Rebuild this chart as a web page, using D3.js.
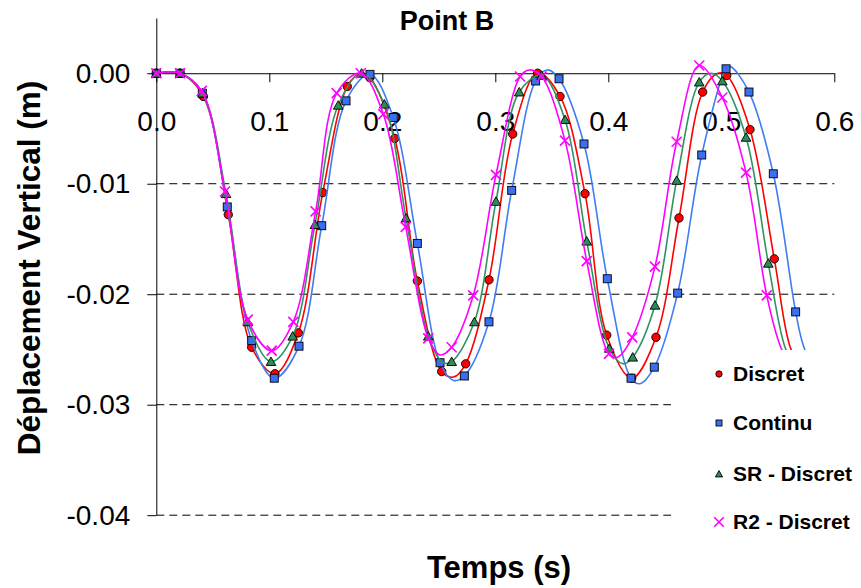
<!DOCTYPE html>
<html><head><meta charset="utf-8">
<script src="https://cdn.jsdelivr.net/npm/d3@7"></script>
<style>
body{margin:0;background:#fff}
svg{display:block}
text{font-family:Arial,"Liberation Sans",sans-serif}
</style>
</head><body>
<svg id="c" width="861" height="588"></svg>
<script>
// ---------- data ----------
const titleText = "Point B";
const xTitle = "Temps (s)";
const yTitle = "Déplacement Vertical (m)";
const xTickValues = [0, 0.1, 0.2, 0.3, 0.4, 0.5, 0.6];
const xTickLabels = ["0.0", "0.1", "0.2", "0.3", "0.4", "0.5", "0.6"];
const yTickValues = [0, -0.01, -0.02, -0.03, -0.04];
const yTickLabels = ["0.00", "-0.01", "-0.02", "-0.03", "-0.04"];
const gridValues = [-0.01, -0.02, -0.03, -0.04];
const seriesNames = ["Discret", "Continu", "SR - Discret", "R2 - Discret"];

// markers [time (s), displacement (m)]
const discretMarkers = [[0,0],[0.021,0],[0.0416,-0.0021],[0.0637,-0.0128],[0.0844,-0.0248],[0.105,-0.0272],[0.1257,-0.0235],[0.1473,-0.0108],[0.169,-0.0012],[0.189,-0.0004],[0.211,-0.0059],[0.231,-0.0188],[0.2526,-0.0270],[0.2738,-0.0263],[0.2944,-0.0187],[0.3154,-0.0055],[0.3375,0.0000],[0.3573,-0.0021],[0.3794,-0.0109],[0.3986,-0.0237],[0.4207,-0.0276],[0.4422,-0.0239],[0.4626,-0.0131],[0.4835,-0.0017],[0.5048,-0.0002],[0.5254,-0.0051],[0.5469,-0.0168]];
const continuMarkers = [[0,0],[0.021,0],[0.0407,-0.0018],[0.0628,-0.0121],[0.0844,-0.0242],[0.1044,-0.0276],[0.1263,-0.0247],[0.1464,-0.0138],[0.1679,-0.0025],[0.1891,-0.0001],[0.2097,-0.0040],[0.231,-0.0154],[0.2511,-0.0262],[0.2726,-0.0274],[0.2944,-0.0225],[0.3145,-0.0106],[0.3357,-0.0007],[0.3564,-0.0005],[0.3785,-0.0064],[0.3991,-0.0186],[0.4201,-0.0276],[0.4407,-0.0266],[0.4614,-0.0199],[0.4827,-0.0074],[0.5042,0.0004],[0.5245,-0.0017],[0.546,-0.0091],[0.5658,-0.0216]];
const srMarkers = [[0,0],[0.021,0],[0.041,-0.0018],[0.0617,-0.0109],[0.0809,-0.0225],[0.1015,-0.0261],[0.1207,-0.0238],[0.1404,-0.0137],[0.161,-0.0029],[0.1817,0.0000],[0.2018,-0.0028],[0.221,-0.0131],[0.2407,-0.0238],[0.2614,-0.0261],[0.2815,-0.0225],[0.3006,-0.0116],[0.3212,-0.0017],[0.341,-0.0002],[0.3617,-0.0042],[0.3809,-0.0152],[0.4009,-0.0249],[0.4216,-0.0257],[0.4413,-0.0210],[0.4605,-0.0097],[0.4805,-0.0008],[0.5009,-0.0007],[0.5219,-0.0058],[0.5416,-0.0172]];
const r2Markers = [[0,0],[0.021,0],[0.0402,-0.0016],[0.0608,-0.0107],[0.0809,-0.0223],[0.1021,-0.0251],[0.1212,-0.0225],[0.141,-0.0125],[0.1596,-0.0018],[0.1809,0.0000],[0.2009,-0.0037],[0.2207,-0.0139],[0.2407,-0.0240],[0.2614,-0.0248],[0.2805,-0.0201],[0.3006,-0.0092],[0.3219,-0.0003],[0.341,-0.0003],[0.3617,-0.0061],[0.3809,-0.0170],[0.4006,-0.0254],[0.4212,-0.0239],[0.4413,-0.0175],[0.4605,-0.0062],[0.4805,0.0007],[0.5009,-0.0022],[0.5219,-0.0090],[0.5402,-0.0201]];

// extra points (peaks, troughs, tail)
const discretLineExtra = [[0.181,0.0000],[0.263,-0.0275],[0.497,0.0000],[0.561,-0.0248],[0.575,-0.0276]];
const continuLineExtra = [[0.263,-0.0278],[0.346,0.0003],[0.428,-0.0281],[0.508,0.0006],[0.5731,-0.0248],[0.587,-0.0277]];
const srLineExtra = [[0.254,-0.0262],[0.413,-0.0263],[0.491,0.0000],[0.5564,-0.0248],[0.570,-0.0276]];
const r2LineExtra = [[0.251,-0.0255],[0.330,0.0003],[0.408,-0.0257],[0.5526,-0.0248],[0.565,-0.0272]];

// ---------- chart ----------
const svg = d3.select("#c");
const x = d3.scaleLinear().domain([0, 0.6]).range([156.3, 834.3]);
const y = d3.scaleLinear().domain([-0.04, 0.005]).range([515.2, 18]);
const font = 'Arial,"Liberation Sans",sans-serif';

// gridlines
svg.append("g").selectAll("line").data(gridValues).join("line")
  .attr("x1", x(0)).attr("x2", x(0.6))
  .attr("y1", d => y(d)).attr("y2", d => y(d))
  .attr("stroke", "#000").attr("stroke-width", 1)
  .attr("stroke-dasharray", "8,5");

// y axis
const yAx = svg.append("g").attr("transform", `translate(${x(0)},0)`)
  .call(d3.axisLeft(y).tickValues(yTickValues)
    .tickFormat((d, i) => yTickLabels[i]).tickSize(9).tickSizeOuter(0).tickPadding(17));
yAx.selectAll("text").style("font-size", "28px").style("font-family", font).attr("fill", "#000");
yAx.selectAll("line,path").attr("stroke", "#000");

// x axis at y = 0
const xAx = svg.append("g").attr("transform", `translate(0,${y(0)})`)
  .call(d3.axisBottom(x).tickValues(xTickValues)
    .tickFormat((d, i) => xTickLabels[i]).tickSize(9).tickSizeOuter(0).tickPadding(29));
xAx.selectAll("text").style("font-size", "28px").style("font-family", font).attr("fill", "#000");
xAx.selectAll("line,path").attr("stroke", "#000");

const series = [
  {name: seriesNames[0], markers: discretMarkers, extra: discretLineExtra, line: "#ff0000", fill: "#ff0000", shape: "circle"},
  {name: seriesNames[1], markers: continuMarkers, extra: continuLineExtra, line: "#3f7df2", fill: "#3a6ff0", shape: "square"},
  {name: seriesNames[2], markers: srMarkers, extra: srLineExtra, line: "#2f9462", fill: "#2e8b57", shape: "triangle"},
  {name: seriesNames[3], markers: r2Markers, extra: r2LineExtra, line: "#ff00ff", fill: "#ff00ff", shape: "cross"}
];

const lineGen = d3.line().x(d => x(d[0])).y(d => y(d[1])).curve(d3.curveCatmullRom.alpha(0.5));

function drawMarker(g, shape, cx, cy, s, color) {
  if (shape === "circle") {
    g.append("circle").attr("cx", cx).attr("cy", cy).attr("r", 4.2 * s)
      .attr("fill", color).attr("stroke", "#000").attr("stroke-width", 0.9);
  } else if (shape === "square") {
    g.append("rect").attr("x", cx - 4 * s).attr("y", cy - 4 * s).attr("width", 8 * s).attr("height", 8 * s)
      .attr("fill", color).attr("stroke", "#000").attr("stroke-width", 0.9);
  } else if (shape === "triangle") {
    const h = 4.6 * s;
    g.append("path").attr("d", `M${cx},${cy - h}L${cx + h * 1.05},${cy + h * 0.85}L${cx - h * 1.05},${cy + h * 0.85}Z`)
      .attr("fill", color).attr("stroke", "#000").attr("stroke-width", 0.9);
  } else {
    const h = 5 * s;
    g.append("path").attr("d", `M${cx - h},${cy - h}L${cx + h},${cy + h}M${cx - h},${cy + h}L${cx + h},${cy - h}`)
      .attr("stroke", color).attr("stroke-width", 1.6).attr("fill", "none");
  }
}

series.forEach(s => {
  const pts = s.markers.concat(s.extra).slice().sort((a, b) => a[0] - b[0]);
  const g = svg.append("g");
  g.append("path").attr("d", lineGen(pts)).attr("fill", "none")
    .attr("stroke", s.line).attr("stroke-width", 1.6);
  s.markers.forEach(d => drawMarker(g, s.shape, x(d[0]), y(d[1]), 1, s.fill));
});

// legend (white box covering the plot corner)
const lg = svg.append("g");
lg.append("rect").attr("x", 671).attr("y", 350).attr("width", 190).attr("height", 210).attr("fill", "#fff");
const legendY = [374, 423, 474, 522];
series.forEach((s, i) => {
  drawMarker(lg, s.shape, 719, legendY[i], s.shape === "cross" ? 0.95 : 0.75, s.fill);
  lg.append("text").attr("x", 733).attr("y", legendY[i]).attr("dy", "0.35em")
    .style("font-size", "21px").style("font-weight", "bold").text(s.name);
});

// titles
svg.append("text").attr("x", 447).attr("y", 30).attr("text-anchor", "middle")
  .style("font-size", "27px").style("font-weight", "bold").text(titleText);
svg.append("text").attr("x", 499).attr("y", 578).attr("text-anchor", "middle")
  .style("font-size", "31px").style("font-weight", "bold").text(xTitle);
svg.append("text").attr("transform", "translate(40,268) rotate(-90)").attr("text-anchor", "middle")
  .style("font-size", "31.5px").style("font-weight", "bold").text(yTitle);
</script>
</body></html>
